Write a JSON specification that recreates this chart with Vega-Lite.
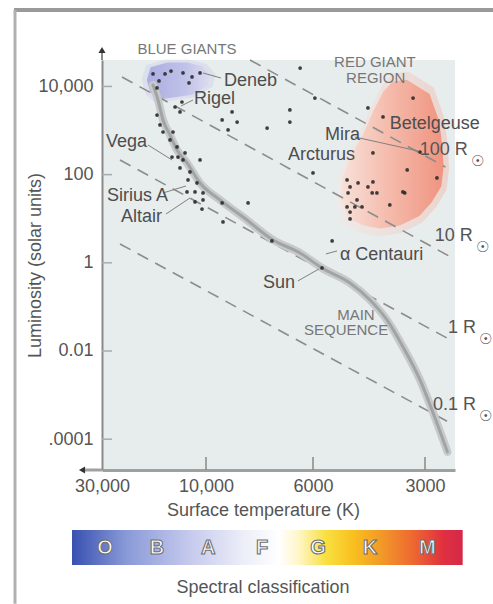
{
  "$schema": "https://vega.github.io/schema/vega-lite/v6.json",
  "width": 353,
  "height": 410,
  "autosize": {"type": "none"},
  "padding": {"left": 102, "top": 60, "right": 38, "bottom": 134},
  "background": "white",
  "view": {"fill": "#e7ecec", "stroke": null},
  "config": {"font": "Liberation Sans"},
  "encoding": {
    "x": {
      "field": "T", "type": "quantitative",
      "scale": {"type": "log", "domain": [30000, 10000, 6000, 3000, 2500], "range": [0, 104, 211, 323, 353], "nice": false},
      "axis": {
        "values": [30000, 10000, 6000, 3000],
        "labelExpr": "datum.value >= 10000 ? format(datum.value, ',') : format(datum.value, 'd')",
        "title": "Surface temperature (K)",
        "grid": false, "labelFlush": false, "labelOverlap": false,
        "ticks": false, "tickSize": 0,
        "domainColor": "#a0a0a0", "domainWidth": 3,
        "labelPadding": 7, "labelFontSize": 18, "labelColor": "#555",
        "titleFontSize": 18, "titleColor": "#555", "titleFontWeight": "normal",
        "titleX": 161, "titleY": 40, "titleBaseline": "middle", "titleAlign": "center"
      }
    },
    "y": {
      "field": "L", "type": "quantitative",
      "scale": {"type": "log", "domain": [0.00002, 39810], "nice": false},
      "axis": {
        "values": [10000, 100, 1, 0.01, 0.0001],
        "labelExpr": "datum.value >= 10000 ? '10,000' : datum.value >= 100 ? '100' : datum.value >= 1 ? '1' : datum.value >= 0.01 ? '0.01' : '.0001'",
        "title": "Luminosity (solar units)",
        "grid": false, "labelFlush": false, "labelOverlap": false,
        "ticks": false, "tickSize": 0,
        "domainColor": "#8a8a8a", "domainWidth": 2,
        "labelPadding": 9, "labelFontSize": 18, "labelColor": "#555",
        "titleFontSize": 18, "titleColor": "#555", "titleFontWeight": "normal",
        "titleX": -67, "titleY": 205, "titleAngle": 270, "titleBaseline": "middle", "titleAlign": "center"
      }
    }
  },
  "layer": [
    {
      "data": {"name": "redblob", "values": [{"T": 3680, "L": 279}]},
      "mark": {
        "type": "point", "filled": true, "size": 30000, "strokeWidth": 0, "opacity": 0.35,
        "shape": "M0.19,-0.96 L0.48,-0.78 L0.60,-0.44 L0.64,-0.15 L0.66,0.15 L0.63,0.40 L0.51,0.60 L0.35,0.78 L0.10,0.90 L-0.15,0.94 L-0.36,0.90 L-0.56,0.81 L-0.65,0.56 L-0.63,0.28 L-0.53,0.03 L-0.36,-0.28 L-0.24,-0.56 L-0.11,-0.81 L0.01,-0.94 Z",
        "color": {"gradient": "linear", "x1": 0, "y1": 0, "x2": 1, "y2": 0, "stops": [
          {"offset": 0, "color": "#fbe8e2"}, {"offset": 0.5, "color": "#f8c8bc"}, {"offset": 1, "color": "#f3a592"}]}
      }
    },
    {
      "data": {"name": "redblob"},
      "mark": {
        "type": "point", "filled": true, "size": 24500, "strokeWidth": 0, "opacity": 0.9,
        "shape": "M0.19,-0.96 L0.48,-0.78 L0.60,-0.44 L0.64,-0.15 L0.66,0.15 L0.63,0.40 L0.51,0.60 L0.35,0.78 L0.10,0.90 L-0.15,0.94 L-0.36,0.90 L-0.56,0.81 L-0.65,0.56 L-0.63,0.28 L-0.53,0.03 L-0.36,-0.28 L-0.24,-0.56 L-0.11,-0.81 L0.01,-0.94 Z",
        "color": {"gradient": "linear", "x1": 0, "y1": 0, "x2": 1, "y2": 0, "stops": [
          {"offset": 0, "color": "#f9e0d8"}, {"offset": 0.45, "color": "#f6b8a8"}, {"offset": 1, "color": "#f08c76"}]}
      }
    },
    {
      "data": {"name": "blueblob", "values": [{"T": 13440, "L": 14000}]},
      "mark": {
        "type": "point", "filled": true, "size": 6400, "strokeWidth": 0, "opacity": 0.3,
        "shape": "M-0.80,-0.37 L-0.31,-0.51 L0.26,-0.51 L0.71,-0.40 L0.94,-0.14 L0.86,0.17 L0.40,0.43 L-0.14,0.51 L-0.57,0.57 L-0.80,0.37 L-0.91,0 Z",
        "color": "#c4c4ec"
      }
    },
    {
      "data": {"name": "blueblob"},
      "mark": {
        "type": "point", "filled": true, "size": 4700, "strokeWidth": 0, "opacity": 0.85,
        "shape": "M-0.80,-0.37 L-0.31,-0.51 L0.26,-0.51 L0.71,-0.40 L0.94,-0.14 L0.86,0.17 L0.40,0.43 L-0.14,0.51 L-0.57,0.57 L-0.80,0.37 L-0.91,0 Z",
        "color": {"gradient": "linear", "x1": 0, "y1": 0, "x2": 1, "y2": 0, "stops": [
          {"offset": 0, "color": "#a4a4e0"}, {"offset": 0.6, "color": "#bcbce8"}, {"offset": 1, "color": "#dcdcf0"}]}
      }
    },
    {
      "data": {"values": [
        {"r": "100", "T": 8106, "L": 39811}, {"r": "100", "T": 2650, "L": 149},
        {"r": "10", "T": 24290, "L": 16400}, {"r": "10", "T": 2538, "L": 1.29},
        {"r": "1", "T": 24810, "L": 215}, {"r": "1", "T": 2570, "L": 0.0178},
        {"r": "0.1", "T": 24810, "L": 2.68}, {"r": "0.1", "T": 2602, "L": 0.000246}
      ]},
      "mark": {"type": "line", "color": "#8c8c8c", "strokeWidth": 1.6, "strokeDash": [12, 8]},
      "encoding": {"detail": {"field": "r"}}
    },
    {
      "data": {"name": "ms", "values": [
        {"T": 17500, "L": 10790}, {"T": 16600, "L": 4930}, {"T": 15750, "L": 1735}, {"T": 14620, "L": 792},
        {"T": 13580, "L": 362}, {"T": 12220, "L": 184}, {"T": 10650, "L": 64.7}, {"T": 9354, "L": 26.6},
        {"T": 8381, "L": 10.96}, {"T": 7262, "L": 3.30}, {"T": 6384, "L": 1.67}, {"T": 5675, "L": 0.764},
        {"T": 4772, "L": 0.349}, {"T": 4216, "L": 0.144}, {"T": 3796, "L": 0.0506}, {"T": 3437, "L": 0.01236},
        {"T": 3094, "L": 0.00221}, {"T": 2855, "L": 0.000394}, {"T": 2618, "L": 0.0000514}
      ]},
      "mark": {"type": "line", "color": "#c6caca", "strokeWidth": 8, "interpolate": "monotone", "strokeCap": "round"}
    },
    {
      "data": {"name": "ms"},
      "mark": {"type": "line", "color": "#a2a4a4", "strokeWidth": 3, "interpolate": "monotone", "strokeCap": "round"}
    },
    {
      "data": {"values": [
        {"T": 10320, "L": 20200, "T2": 9310, "L2": 15550},
        {"T": 11470, "L": 4930, "T2": 13020, "L2": 3605},
        {"T": 18450, "L": 470, "T2": 14320, "L2": 215},
        {"T": 15750, "L": 38.4, "T2": 12350, "L2": 55.3},
        {"T": 15260, "L": 12.8, "T2": 11840, "L2": 29.6},
        {"T": 4630, "L": 714, "T2": 3130, "L2": 344},
        {"T": 6450, "L": 0.388, "T2": 5780, "L2": 0.726},
        {"T": 5540, "L": 1.59, "T2": 5170, "L2": 1.86}
      ]},
      "mark": {"type": "rule", "color": "#808080", "strokeWidth": 1},
      "encoding": {"x2": {"field": "T2"}, "y2": {"field": "L2"}}
    },
    {
      "data": {"values": [
        {"T": 10000, "L": 0.00002, "L2": 0.0000394},
        {"T": 6000, "L": 0.00002, "L2": 0.0000394},
        {"T": 3000, "L": 0.00002, "L2": 0.0000394}
      ]},
      "mark": {"type": "rule", "color": "#888", "strokeWidth": 1.5},
      "encoding": {"y2": {"field": "L2"}}
    },
    {
      "data": {"values": [
        {"T": 30000, "T2": 26990, "L": 10000},
        {"T": 30000, "T2": 26990, "L": 100},
        {"T": 30000, "T2": 26990, "L": 1},
        {"T": 30000, "T2": 26990, "L": 0.01},
        {"T": 30000, "T2": 26990, "L": 0.0001}
      ]},
      "mark": {"type": "rule", "color": "#aaa", "strokeWidth": 1.5},
      "encoding": {"x2": {"field": "T2"}}
    },
    {
      "data": {"values": [{"T": 30000, "L": 39810, "L2": 70000}]},
      "mark": {"type": "rule", "color": "#8a8a8a", "strokeWidth": 2},
      "encoding": {"y2": {"field": "L2"}}
    },
    {
      "data": {"values": [{"T": 30000, "T2": 37000, "L": 0.00002}]},
      "mark": {"type": "rule", "color": "#a0a0a0", "strokeWidth": 3},
      "encoding": {"x2": {"field": "T2"}}
    },
    {
      "data": {"values": [{"T": 30000, "L": 67100}]},
      "mark": {"type": "point", "shape": "triangle-up", "filled": true, "size": 50, "color": "#333", "opacity": 1}
    },
    {
      "data": {"values": [{"T": 37050, "L": 0.00002}]},
      "mark": {"type": "point", "shape": "triangle-left", "filled": true, "size": 50, "color": "#333", "opacity": 1}
    },
    {
      "data": {"values": [
        {"T": 17500, "L": 19200}, {"T": 16430, "L": 13300}, {"T": 15420, "L": 19200}, {"T": 14470, "L": 22400},
        {"T": 12750, "L": 20200}, {"T": 11590, "L": 16400}, {"T": 11970, "L": 11980}, {"T": 10650, "L": 20200},
        {"T": 16780, "L": 9230},
        {"T": 12890, "L": 4440}, {"T": 13870, "L": 3420}, {"T": 13160, "L": 2640}, {"T": 8830, "L": 2640},
        {"T": 9260, "L": 1735}, {"T": 8620, "L": 1560}, {"T": 9000, "L": 1030},
        {"T": 16780, "L": 2250}, {"T": 16260, "L": 1340}, {"T": 15750, "L": 927}, {"T": 14170, "L": 927},
        {"T": 14620, "L": 611}, {"T": 13580, "L": 424}, {"T": 12480, "L": 310}, {"T": 13440, "L": 251},
        {"T": 10650, "L": 215}, {"T": 13160, "L": 142}, {"T": 11840, "L": 115}, {"T": 12090, "L": 75.6},
        {"T": 11000, "L": 64.7}, {"T": 12220, "L": 40.4}, {"T": 11230, "L": 40.4}, {"T": 10320, "L": 38.4},
        {"T": 11230, "L": 24.0}, {"T": 10320, "L": 26.6}, {"T": 10430, "L": 16.6}, {"T": 9260, "L": 22.8},
        {"T": 8180, "L": 22.8}, {"T": 9220, "L": 8.44}, {"T": 7300, "L": 3.13}, {"T": 14320, "L": 251},
        {"T": 12750, "L": 215},
        {"T": 6380, "L": 26200}, {"T": 5930, "L": 5470}, {"T": 6700, "L": 2930}, {"T": 6700, "L": 1560},
        {"T": 7470, "L": 1140}, {"T": 6000, "L": 109}, {"T": 5330, "L": 3.13}, {"T": 5675, "L": 0.764},
        {"T": 3230, "L": 5470}, {"T": 4270, "L": 3250}, {"T": 3890, "L": 2030}, {"T": 4140, "L": 310},
        {"T": 3350, "L": 128}, {"T": 2790, "L": 84}, {"T": 3440, "L": 40.4}, {"T": 3730, "L": 20.5},
        {"T": 4860, "L": 75.6}, {"T": 4770, "L": 52.5}, {"T": 4540, "L": 64.7}, {"T": 4270, "L": 52.5},
        {"T": 4140, "L": 68.2}, {"T": 4160, "L": 38.4}, {"T": 4040, "L": 38.4}, {"T": 4830, "L": 38.4},
        {"T": 4570, "L": 26.6}, {"T": 4860, "L": 18.5}, {"T": 4630, "L": 18.5}, {"T": 4430, "L": 18.5},
        {"T": 4770, "L": 14.2}, {"T": 4770, "L": 9.87}, {"T": 3094, "L": 326}, {"T": 3400, "L": 38.4}
      ]},
      "mark": {"type": "circle", "size": 14, "color": "#2a2a2a", "opacity": 0.9}
    },
    {
      "data": {"values": [
        {"name": "Deneb", "T": 9180, "L": 13300},
        {"name": "Rigel", "T": 11350, "L": 5195},
        {"name": "Vega", "T": 28760, "L": 550},
        {"name": "Sirius A", "T": 28460, "L": 32.8},
        {"name": "Altair", "T": 24550, "L": 10.96},
        {"name": "Mira", "T": 5570, "L": 793},
        {"name": "Arcturus", "T": 6760, "L": 279},
        {"name": "Betelgeuse", "T": 3730, "L": 1408},
        {"name": "α Centauri", "T": 5080, "L": 1.51},
        {"name": "Sun", "T": 7620, "L": 0.349}
      ]},
      "mark": {"type": "text", "align": "left", "baseline": "middle", "fontSize": 18, "color": "#4d4d4d"},
      "encoding": {"text": {"field": "name"}}
    },
    {
      "data": {"values": [
        {"name": "BLUE GIANTS", "T": 12220, "L": 70700},
        {"name": "RED GIANT", "T": 4090, "L": 35860},
        {"name": "REGION", "T": 4070, "L": 15550},
        {"name": "MAIN", "T": 4600, "L": 0.0657},
        {"name": "SEQUENCE", "T": 4890, "L": 0.0300}
      ]},
      "mark": {"type": "text", "align": "center", "baseline": "middle", "fontSize": 15, "color": "#777"},
      "encoding": {"text": {"field": "name"}}
    },
    {
      "data": {"name": "rlab", "values": [
        {"label": "100 R", "T": 2313, "L": 362},
        {"label": "10 R", "T": 2243, "L": 4.06},
        {"label": "1 R", "T": 2201, "L": 0.0333},
        {"label": "0.1 R", "T": 2201, "L": 0.000598}
      ]},
      "mark": {"type": "text", "align": "right", "baseline": "middle", "fontSize": 18, "color": "#555"},
      "encoding": {"text": {"field": "label"}}
    },
    {
      "data": {"name": "rlab"},
      "mark": {"type": "text", "align": "center", "baseline": "middle", "fontSize": 15, "color": "#555", "dx": 10, "dy": 11, "text": "☉"}
    },
    {
      "data": {"values": [{"T": 41190, "T2": 2386, "L": 8.75e-7, "L2": 1.41e-7}]},
      "mark": {
        "type": "rect",
        "color": {"gradient": "linear", "x1": 0, "y1": 0, "x2": 1, "y2": 0, "stops": [
          {"offset": 0, "color": "#3850b0"}, {"offset": 0.14, "color": "#8a9ad8"}, {"offset": 0.31, "color": "#c8ccee"},
          {"offset": 0.44, "color": "#eceef8"}, {"offset": 0.53, "color": "#ffffff"}, {"offset": 0.58, "color": "#fff6c8"},
          {"offset": 0.65, "color": "#f8e040"}, {"offset": 0.72, "color": "#f8c020"}, {"offset": 0.79, "color": "#f29a28"},
          {"offset": 0.87, "color": "#ee6a30"}, {"offset": 0.95, "color": "#e03040"}, {"offset": 1, "color": "#d42848"}]}
      },
      "encoding": {"x2": {"field": "T2"}, "y2": {"field": "L2"}}
    },
    {
      "data": {"values": [
        {"c": "O", "T": 29060, "L": 3.42e-7}, {"c": "B", "T": 16780, "L": 3.42e-7}, {"c": "A", "T": 9900, "L": 3.42e-7},
        {"c": "F", "T": 7650, "L": 3.42e-7}, {"c": "G", "T": 5820, "L": 3.42e-7}, {"c": "K", "T": 4220, "L": 3.42e-7},
        {"c": "M", "T": 2960, "L": 3.42e-7}
      ]},
      "mark": {"type": "text", "align": "center", "baseline": "middle", "fontSize": 20, "fontWeight": "bold", "color": "#ffffff", "stroke": "#707070", "strokeWidth": 1.1},
      "encoding": {"text": {"field": "c"}}
    },
    {
      "data": {"values": [{"t": "Spectral classification", "T": 7620, "L": 4.23e-8}]},
      "mark": {"type": "text", "align": "center", "baseline": "middle", "fontSize": 18, "color": "#555"},
      "encoding": {"text": {"field": "t"}}
    },
    {
      "data": {"values": [{"T": 76000, "T2": 1969, "L": 541800}]},
      "mark": {"type": "rule", "color": "#9a9a9a", "strokeWidth": 4},
      "encoding": {"x2": {"field": "T2"}}
    },
    {
      "data": {"values": [{"T": 75200, "L": 541800, "L2": 1.84e-8}]},
      "mark": {"type": "rule", "color": "#b0b0b0", "strokeWidth": 3},
      "encoding": {"y2": {"field": "L2"}}
    }
  ]
}
